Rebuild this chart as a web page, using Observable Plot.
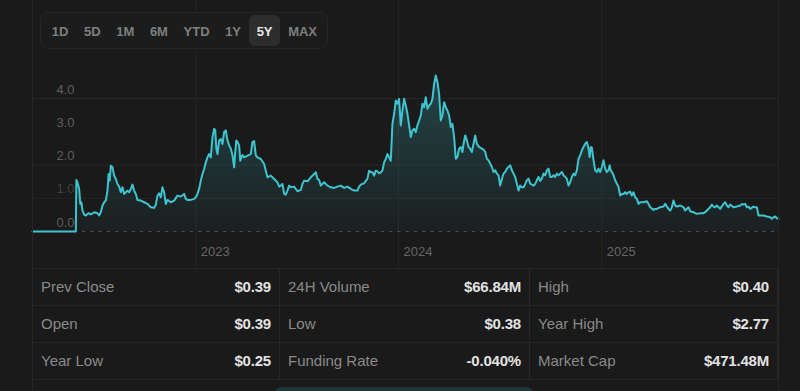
<!DOCTYPE html>
<html>
<head>
<meta charset="utf-8">
<script src="https://cdn.jsdelivr.net/npm/d3@7"></script>
<script src="https://cdn.jsdelivr.net/npm/@observablehq/plot@0.6"></script>
<style>
  html, body { margin: 0; padding: 0; background: #1a1a1a; }
  #wrap { position: relative; width: 800px; height: 391px; overflow: hidden; background: #1a1a1a;
          font-family: "Liberation Sans", Arial, sans-serif; }
  #chart { position: absolute; left: 0; top: 0; }
  #ranges { position: absolute; left: 40px; top: 12px; height: 37px; box-sizing: border-box;
            padding: 2px 2px 2px 3px; display: flex; align-items: center; border: 1px solid #262626; border-radius: 8px; background: #1c1c1c; }
  #ranges div { height: 31px; line-height: 33px; padding: 0 7.8px; font-size: 13px; font-weight: bold;
                color: #7f7f7f; border-radius: 6px; }
  #ranges div.sel { background: #2d2d2d; color: #e6e6e6; }
  #stats { position: absolute; left: 32px; top: 268px; width: 746px; border-top: 1px solid #262626; }
  .row { display: flex; height: 37px; border-bottom: 1px solid #262626; box-sizing: border-box; }
  .cell { display: flex; justify-content: space-between; align-items: center; padding: 0 8px 1px 8px;
          box-sizing: border-box; border-right: 1px solid #262626; font-size: 15px; }
  .cell:first-child { border-left: 1px solid #262626; }
  .cell .lab { color: #8a8a8a; }
  .cell .val { color: #e2e2e2; font-weight: bold; letter-spacing: -0.2px; }
  .edge { position: absolute; top: 0; width: 1px; height: 391px; background: #262626; }
  #tab { position: absolute; left: 275px; top: 387px; width: 258px; height: 12px; border-radius: 6px; background: #1d3537; }
</style>
</head>
<body>
<div id="wrap">
  <div id="chart"></div>
  <div class="edge" style="left:32px"></div>
  <div class="edge" style="left:778px"></div>
  <div id="ranges"></div>
  <div id="stats"></div>
  <div id="tab"></div>
</div>
<script>
// ---- data (days since 2023-01-01, price in USD) ----
const days = [
  -294,-216,-215,-213,-210,-208,-206,-204,-201,-198,-195,-192,-189,-183,-177,-174,-171,-168,-165,-162,
  -159,-157,-155,-153,-150,-147,-144,-141,-138,-135,-132,-129,-126,-123,-120,-117,-114,-111,-108,-105,
  -99,-93,-87,-81,-75,-72,-69,-66,-63,-60,-57,-54,-51,-45,-39,-33,-27,-21,-18,-15,
  -9,-3,0,3,6,9,12,15,18,21,24,27,30,33,35,37,39,42,45,48,
  51,54,57,60,63,66,69,71,73,75,78,80,82,84,87,93,99,102,105,108,
  111,117,123,126,129,135,141,147,150,153,156,159,162,165,168,171,177,183,189,192,
  195,201,207,213,216,219,222,225,231,237,243,249,255,261,267,273,279,285,291,294,
  297,303,309,312,315,318,321,324,327,330,333,336,339,342,345,348,351,354,357,360,
  363,366,369,372,375,378,381,384,387,390,393,396,399,402,405,408,411,414,417,420,
  423,426,429,432,435,438,441,444,447,450,453,456,459,462,465,468,471,474,477,480,
  482,485,488,491,494,497,500,503,506,509,512,515,518,521,524,527,530,533,536,539,
  542,545,548,551,554,557,560,563,566,569,572,575,578,581,584,587,590,593,596,599,
  602,605,608,611,614,617,620,623,626,629,632,635,638,641,644,647,650,653,656,659,
  662,665,668,671,674,677,680,683,686,689,692,695,698,701,704,707,709,711,713,716,
  719,722,725,728,731,734,737,740,743,745,747,749,752,755,758,761,764,767,770,773,
  776,779,782,785,788,791,794,797,800,806,812,815,818,824,827,830,836,842,845,848,
  851,854,857,860,863,866,872,878,881,887,890,896,902,908,914,917,920,926,929,932,
  935,938,944,950,953,956,959,962,968,974,980,983,986,989,992,995,998,1004,1007,1010,
  1013,1016,1022,1028,1034,1037,1040,1043,1046,1049
];
const prices = [
  0,0,1.55,1.48,1.28,0.83,0.88,0.63,0.51,0.48,0.53,0.55,0.51,0.58,0.55,0.48,0.58,0.78,0.88,0.93,
  1.23,1.73,1.53,1.98,1.93,1.68,1.58,1.43,1.35,1.18,1.33,1.13,1.18,1.23,1.18,1.28,1.41,1.23,1.13,0.95,
  0.93,0.88,0.83,0.73,0.71,0.81,1.08,1.15,1.03,1.33,1.18,0.83,0.95,0.88,0.93,1.08,1.05,1.13,0.98,0.95,
  0.95,0.98,1.03,1.13,1.28,1.53,1.73,1.88,2.08,2.23,2.33,2.23,2.83,3.09,3.04,2.48,2.33,2.73,2.78,2.63,
  2.99,3.04,2.74,2.59,2.49,2.29,1.93,2.39,2.74,2.69,2.59,2.13,2.23,2.30,2.23,2.28,2.33,2.69,2.72,2.29,
  2.23,2.18,2.03,1.83,1.63,1.68,1.58,1.48,1.35,1.38,1.43,1.13,1.11,1.23,1.38,1.33,1.35,1.21,1.25,1.43,
  1.53,1.51,1.63,1.73,1.78,1.58,1.55,1.38,1.48,1.38,1.33,1.31,1.35,1.38,1.31,1.35,1.28,1.23,1.23,1.35,
  1.41,1.45,1.59,1.83,1.78,1.78,1.68,1.83,1.81,1.75,1.78,1.83,2.08,2.18,2.33,2.23,2.13,3.24,3.54,3.94,
  3.84,3.99,3.19,3.64,3.99,3.79,3.54,3.19,2.84,3.04,3.09,2.99,3.19,3.34,3.49,3.84,3.74,4.04,3.69,3.79,
  3.84,3.99,4.44,4.69,4.49,4.14,3.34,3.49,3.89,3.74,3.64,3.49,3.14,3.24,2.84,2.19,2.24,2.49,2.54,2.39,
  2.64,2.89,2.74,2.54,2.49,2.39,2.64,2.89,2.64,2.56,2.52,2.49,2.46,2.39,2.19,2.14,2.04,1.94,1.79,1.84,
  1.74,1.69,1.38,1.58,1.74,1.79,1.89,1.94,1.99,1.84,1.74,1.64,1.44,1.23,1.38,1.33,1.33,1.43,1.54,1.59,
  1.44,1.41,1.38,1.43,1.54,1.64,1.52,1.59,1.74,1.69,1.84,1.89,1.64,1.64,1.69,1.64,1.74,1.69,1.74,1.79,
  1.69,1.64,1.59,1.38,1.48,1.64,1.74,1.69,1.84,2.19,2.29,2.44,2.54,2.64,2.69,2.49,2.24,2.54,2.52,2.14,
  1.84,1.79,1.89,1.79,1.94,2.14,1.89,1.79,1.84,1.99,1.84,1.79,1.69,1.54,1.44,1.34,1.08,1.13,1.13,1.18,
  1.13,1.18,1.20,1.08,1.18,1.03,0.98,0.83,0.88,0.88,0.91,0.83,0.73,0.65,0.68,0.68,0.73,0.75,0.83,0.75,
  0.68,0.63,0.73,0.93,0.78,0.75,0.78,0.73,0.63,0.73,0.61,0.58,0.53,0.55,0.55,0.58,0.63,0.73,0.81,0.75,
  0.73,0.78,0.68,0.83,0.88,0.78,0.73,0.81,0.73,0.75,0.78,0.83,0.81,0.83,0.73,0.75,0.68,0.75,0.73,0.73,
  0.48,0.48,0.48,0.45,0.43,0.38,0.43,0.45,0.40,0.38
];
const yTicks = [0, 1, 2, 3, 4];
const gridValues = [1, 2, 4];
const yearTicks = ["2023-01-01", "2024-01-01", "2025-01-01"];
const rangeLabels = ["1D", "5D", "1M", "6M", "YTD", "1Y", "5Y", "MAX"];
const selectedRange = "5Y";
const statLabels = [["Prev Close", "24H Volume", "High"], ["Open", "Low", "Year High"], ["Year Low", "Funding Rate", "Market Cap"]];
const statValues = [["$0.39", "$66.84M", "$0.40"], ["$0.39", "$0.38", "$2.77"], ["$0.25", "-0.040%", "$471.48M"]];

// ---- build ----
const base = new Date(Date.UTC(2023, 0, 1));
const data = days.map((d, i) => ({ date: d3.utcDay.offset(base, d), price: prices[i] }));
const years = yearTicks.map(s => new Date(s + "T00:00:00Z"));
const xDomain = d3.extent(data, d => d.date);

const lineColor = "#3ec3cf";
const gridColor = "#262626";

const chart = Plot.plot({
  width: 800,
  height: 270,
  marginLeft: 32,
  marginRight: 22,
  marginTop: 0,
  marginBottom: 0,
  style: { background: "transparent", fontFamily: "'Liberation Sans', Arial, sans-serif", color: "#5e5e5e", overflow: "visible" },
  x: { type: "utc", domain: xDomain, axis: null },
  y: { domain: [0, 4], range: [231, 98], axis: null },
  marks: [
    Plot.ruleX([xDomain[0], ...years, xDomain[1]], { stroke: gridColor, strokeWidth: 1 }),
    Plot.ruleY(gridValues, { stroke: gridColor, strokeWidth: 1 }),
    Plot.ruleY([0], { stroke: "#4c4c4c", strokeDasharray: "3.5,4.8", strokeWidth: 1.2 }),
    Plot.areaY(data, { x: "date", y: "price", fill: "url(#opGrad)" }),
    Plot.lineY(data, { x: "date", y: "price", stroke: lineColor, strokeWidth: 2, strokeLinejoin: "round" }),
    Plot.axisY(yTicks, { anchor: "left", label: null, tickSize: 0, tickPadding: 0, dx: 42, dy: -9, textAnchor: "end",
      tickFormat: d3.format(".1f"), fontSize: 13, fill: d => d === 1 ? "#404040" : "#5e5e5e" }),
    Plot.text(years, { x: d => d, frameAnchor: "bottom", dy: -15, dx: 5, textAnchor: "start",
      text: d => String(d.getUTCFullYear()), fontSize: 13, fill: "#666666" })
  ]
});

const svg = d3.select(chart);
const defs = svg.insert("defs", ":first-child");
const grad = defs.append("linearGradient").attr("id", "opGrad")
  .attr("x1", 0).attr("y1", 0).attr("x2", 0).attr("y2", 1);
grad.append("stop").attr("offset", "0%").attr("stop-color", lineColor).attr("stop-opacity", 0.26);
grad.append("stop").attr("offset", "100%").attr("stop-color", lineColor).attr("stop-opacity", 0.03);
document.getElementById("chart").appendChild(chart);

// range buttons
const ranges = d3.select("#ranges");
rangeLabels.forEach(r => ranges.append("div").attr("class", r === selectedRange ? "sel" : null).text(r));

// stats table
const widths = [248, 250, 248];
const stats = d3.select("#stats");
statLabels.forEach((row, i) => {
  const r = stats.append("div").attr("class", "row");
  row.forEach((lab, j) => {
    const c = r.append("div").attr("class", "cell").style("width", widths[j] + "px");
    c.append("span").attr("class", "lab").text(lab);
    c.append("span").attr("class", "val").text(statValues[i][j]);
  });
});
</script>
</body>
</html>
